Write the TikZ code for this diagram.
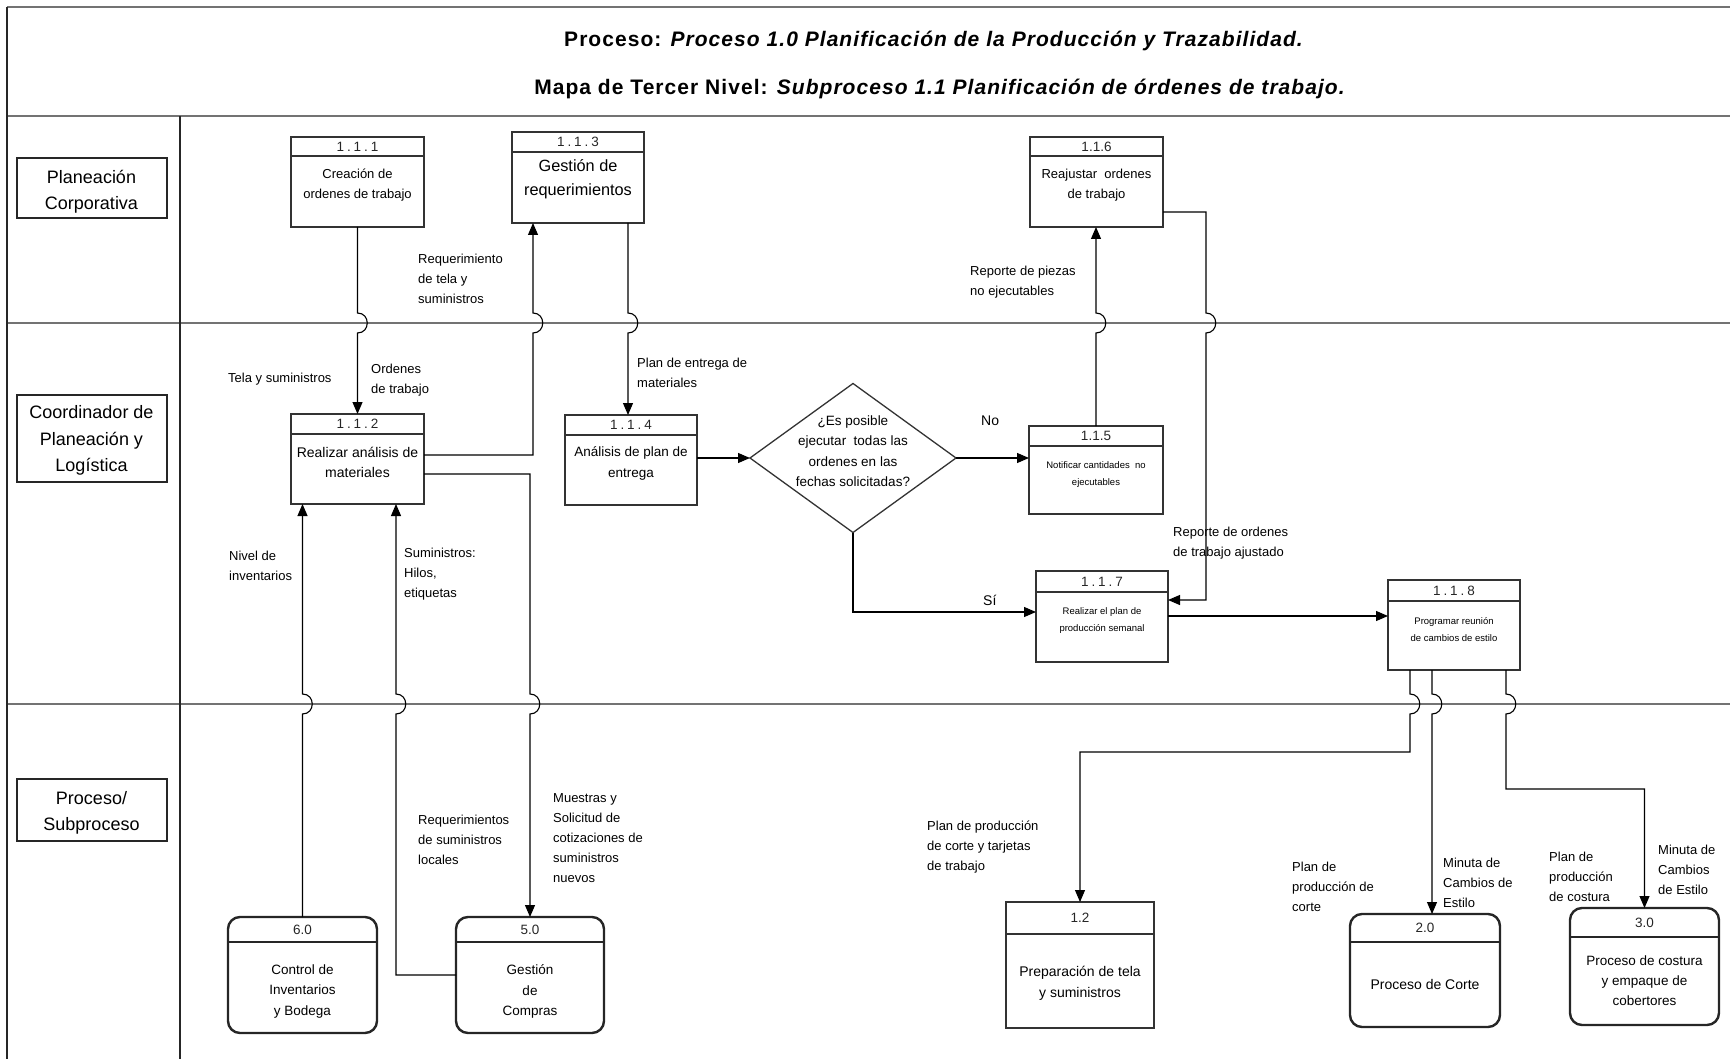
\documentclass[tikz,border=0pt]{standalone}
\usepackage{fontspec}
\setmainfont{Liberation Sans}
\newfontfamily\titlefont[LetterSpace=5]{Liberation Sans}
\newfontfamily\numfont[LetterSpace=22]{Liberation Sans}
\usetikzlibrary{arrows.meta,shapes.geometric,calc}

% process box with a header strip holding its number
% #1 style, #2 name, #3 left, #4 top, #5 right, #6 bottom, #7 header height, #8 number
\newcommand\procbox[8]{%
  \node[#1, minimum width={(#5)-(#3)}, minimum height={(#6)-(#4)}] (#2) at ({((#3)+(#5))/2},{((#4)+(#6))/2}) {};
  \draw[#1hdr] ([yshift=-#7pt]#2.north west) -- ([yshift=-#7pt]#2.north east);
  \node[numtxt] (#2-num) at ([yshift={-(#7)/2*1pt}]#2.north) {#8};
}

\begin{document}
\begin{tikzpicture}[x=1pt,y=-1pt,
  frameline/.style={line width=2pt, draw=black!55},
  thinline/.style={line width=1.1pt, draw=black!85},
  lanebox/.style={draw=black!85, line width=2pt, minimum width=150pt, inner sep=0pt},
  lanetxt/.style={align=center, font=\fontsize{18}{26.5}\selectfont, inner sep=0pt},
  pbox/.style={draw=black!80, line width=1.3pt, inner sep=0pt, outer sep=0pt},
  pboxhdr/.style={line width=1.3pt, draw=black!80},
  rbox/.style={draw=black!85, line width=2.4pt, rounded corners=12pt, inner sep=0pt, outer sep=0pt},
  rboxhdr/.style={line width=2pt, draw=black!85},
  numtxt/.style={font=\fontsize{13.5}{16}\selectfont, inner sep=0pt, text=black!85},
  body/.style={font=\fontsize{13}{20}\selectfont, align=center, anchor=north, inner sep=0pt, yshift=-4.5pt},
  small/.style={font=\fontsize{9.5}{17}\selectfont, align=center, anchor=north, inner sep=0pt, yshift=-4pt},
  lbl/.style={font=\fontsize{13}{20}\selectfont, align=left, anchor=north west, inner sep=0pt, yshift=-4.5pt},
  title/.style={font=\titlefont\fontsize{21}{24}\selectfont\bfseries, inner sep=0pt},
  flow/.style={draw=black, line width=1.1pt, -{Triangle[length=12pt,width=10pt]}}
]
\useasboundingbox (0,0) rectangle (1730,1059);

% frame, title band and swim lanes
\draw[frameline] (7,7) -- (1730,7);
\draw[frameline] (7,116) -- (1730,116);
\draw[frameline] (7,323) -- (1730,323);
\draw[frameline] (7,704) -- (1730,704);
\draw[thinline] (7,7) -- (7,1059);
\draw[thinline] (180,116) -- (180,1059);

\node[title] (title1) at (934,41)
  {Proceso: \textit{Proceso 1.0 Planificación de la Producción y Trazabilidad.}};
\node[title] (title2) at (940,89)
  {Mapa de Tercer Nivel: \textit{Subproceso 1.1 Planificación de órdenes de trabajo.}};

\node[lanebox, minimum height=60pt] (lane1) at (91.5,188) {};
\node[lanebox, minimum height=87pt] (lane2) at (91.5,438) {};
\node[lanebox, minimum height=62pt] (lane3) at (91.5,810) {};
\node[lanetxt] (lane1-txt) at ($(lane1)+(0,3.5)$) {Planeación\\Corporativa};
\node[lanetxt] (lane2-txt) at ($(lane2)+(0,2.5)$) {Coordinador de\\Planeación y\\Logística};
\node[lanetxt] (lane3-txt) at ($(lane3)+(0,3)$) {Proceso/\\Subproceso};

% process boxes
\procbox{pbox}{b111}{291}{137}{424}{227}{19}{\numfont 1.1.1}
\procbox{pbox}{b113}{512}{132}{644}{223}{20}{\numfont 1.1.3}
\procbox{pbox}{b116}{1030}{137}{1163}{227}{19}{1.1.6}
\procbox{pbox}{b112}{291}{414}{424}{504}{20}{\numfont 1.1.2}
\procbox{pbox}{b114}{565}{415}{697}{505}{20}{\numfont 1.1.4}
\procbox{pbox}{b115}{1029}{426}{1163}{514}{20}{1.1.5}
\procbox{pbox}{b117}{1036}{571}{1168}{662}{21}{\numfont 1.1.7}
\procbox{pbox}{b118}{1388}{580}{1520}{670}{21}{\numfont 1.1.8}
\procbox{rbox}{b60}{228}{917}{377}{1033}{25}{6.0}
\procbox{rbox}{b50}{456}{917}{604}{1033}{25}{5.0}
\procbox{pbox}{b12}{1006}{902}{1154}{1028}{32}{1.2}
\procbox{rbox}{b20}{1350}{914}{1500}{1027}{28}{2.0}
\procbox{rbox}{b30}{1570}{908}{1719}{1025}{29}{3.0}

\node[draw=black!80, line width=1.3pt, diamond, minimum width=206pt, minimum height=149pt,
  inner sep=0pt, outer sep=0pt] (dia) at (853,458) {};

% box texts
\node[body] (t111) at (357.5,164) {Creación de\\ordenes de trabajo};
\node[body, font=\fontsize{16.3}{24}\selectfont] (t113) at (578,155) {Gestión de\\requerimientos};
\node[body] (t116) at (1096.5,164) {Reajustar\ \ ordenes\\de trabajo};
\node[body, font=\fontsize{14}{20}\selectfont] (t112) at (357.5,442) {Realizar análisis de\\materiales};
\node[body, font=\fontsize{13.5}{21}\selectfont] (t114) at (631,442) {Análisis de plan de\\entrega};
\node[body, font=\fontsize{13.5}{20.5}\selectfont] (tdia) at (853,411) {¿Es posible\\ejecutar\ \ todas las\\ordenes en las\\fechas solicitadas?};
\node[small] (t115) at (1096,457) {Notificar cantidades\ \ no\\ejecutables};
\node[small] (t117) at (1102,603) {Realizar el plan de\\producción semanal};
\node[small] (t118) at (1454,613) {Programar reunión\\de cambios de estilo};
\node[body, font=\fontsize{13.5}{20.5}\selectfont] (t60) at (302.5,960) {Control de\\Inventarios\\y Bodega};
\node[body, font=\fontsize{13.5}{20.5}\selectfont] (t50) at (530,960) {Gestión\\de\\Compras};
\node[body, font=\fontsize{14}{21}\selectfont] (t12) at (1080,961) {Preparación de tela\\y suministros};
\node[body, font=\fontsize{14}{21}\selectfont] (t20) at (1425,975) {Proceso de Corte};
\node[body, font=\fontsize{13.5}{20}\selectfont] (t30) at (1644.5,951) {Proceso de costura\\y empaque de\\cobertores};

% data flows (line hops where they cross a lane boundary)
\draw[flow] (b111.south) -- (357.5,313) .. controls (370.5,313) and (370.5,333) .. (357.5,333) -- (b112.north);
\draw[flow] (b112.east |- 0,455) -- (533,455) -- (533,333) .. controls (546,333) and (546,313) .. (533,313) -- (b113.south -| 533,0);
\draw[flow] (b113.south -| 628,0) -- (628,313) .. controls (641,313) and (641,333) .. (628,333) -- (b114.north -| 628,0);
\draw[flow] (b112.east |- 0,474) -- (530,474) -- (530,694) .. controls (543,694) and (543,714) .. (530,714) -- (b50.north);
\draw[flow] (b60.north) -- (302.5,714) .. controls (315.5,714) and (315.5,694) .. (302.5,694) -- (b112.south -| b60.north);
\draw[flow] (b50.west |- 0,975) -- (396,975) -- (396,714) .. controls (409,714) and (409,694) .. (396,694) -- (b112.south -| 396,0);
\draw[flow] (b114.east |- dia.west) -- (dia.west);
\draw[flow] (dia.east) -- (b115.west |- dia.east);
\draw[flow] (b115.north) -- (1096,333) .. controls (1109,333) and (1109,313) .. (1096,313) -- (b116.south -| b115.north);
\draw[flow] (b116.east |- 0,212) -- (1206,212) -- (1206,313) .. controls (1219,313) and (1219,333) .. (1206,333) -- (1206,600) -- (b117.east |- 0,600);
\draw[flow] (dia.south) -- (dia.south |- 0,612) -- (b117.west |- 0,612);
\draw[flow] (b117.east |- 0,616) -- (b118.west |- 0,616);
\draw[flow] (b118.south -| 1410,0) -- (1410,694) .. controls (1423,694) and (1423,714) .. (1410,714) -- (1410,752) -- (b12.north |- 0,752) -- (b12.north);
\draw[flow] (b118.south -| 1432,0) -- (1432,694) .. controls (1445,694) and (1445,714) .. (1432,714) -- (b20.north -| 1432,0);
\draw[flow] (b118.south -| 1506,0) -- (1506,694) .. controls (1519,694) and (1519,714) .. (1506,714) -- (1506,789) -- (b30.north |- 0,789) -- (b30.north);

% flow labels
\node[lbl] (l1) at (228,368) {Tela y suministros};
\node[lbl] (l2) at (371,359) {Ordenes\\de trabajo};
\node[lbl] (l3) at (418,249) {Requerimiento\\de tela y\\suministros};
\node[lbl] (l4) at (637,353) {Plan de entrega de\\materiales};
\node[lbl] (l5) at (970,261) {Reporte de piezas\\no ejecutables};
\node[lbl, font=\fontsize{14}{20}\selectfont] (l6) at (981,411) {No};
\node[lbl, font=\fontsize{14}{20}\selectfont] (l7) at (983,590) {Sí};
\node[lbl] (l8) at (1173,522) {Reporte de ordenes\\de trabajo ajustado};
\node[lbl] (l9) at (229,546) {Nivel de\\inventarios};
\node[lbl] (l10) at (404,543) {Suministros:\\Hilos,\\etiquetas};
\node[lbl] (l11) at (418,810) {Requerimientos\\de suministros\\locales};
\node[lbl] (l12) at (553,789) {Muestras y\\Solicitud de\\cotizaciones de\\suministros\\nuevos};
\node[lbl] (l13) at (927,816) {Plan de producción\\de corte y tarjetas\\de trabajo};
\node[lbl] (l14) at (1292,857) {Plan de\\producción de\\corte};
\node[lbl] (l15) at (1443,853) {Minuta de\\Cambios de\\Estilo};
\node[lbl] (l16) at (1549,847) {Plan de\\producción\\de costura};
\node[lbl] (l17) at (1658,840) {Minuta de\\Cambios\\de Estilo};
\end{tikzpicture}
\end{document}
